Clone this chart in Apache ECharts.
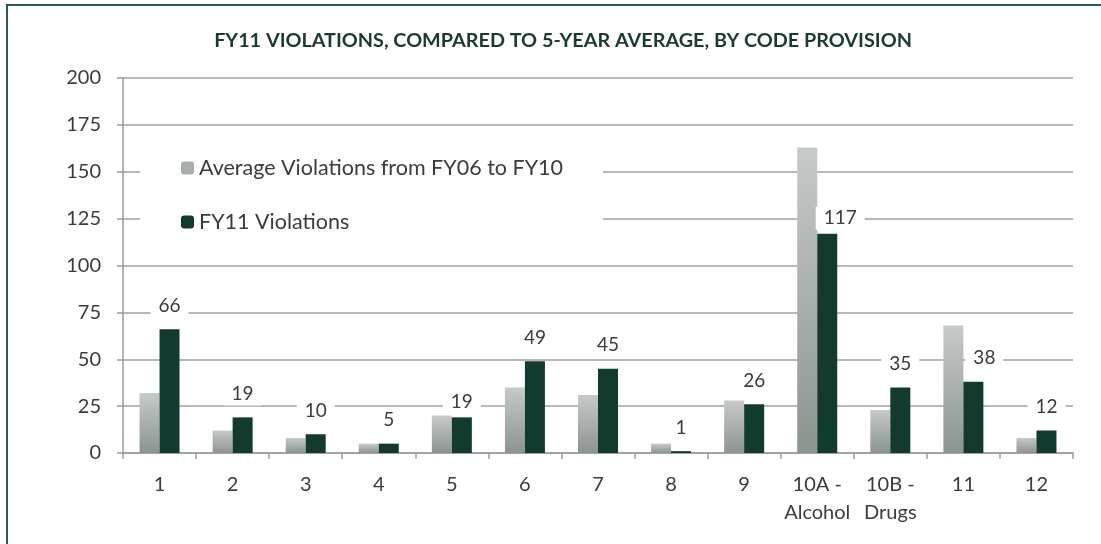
<!DOCTYPE html>
<html lang="en">
<head>
    <meta charset="UTF-8">
    <title>FY11 Violations</title>
    <script src="https://cdn.jsdelivr.net/npm/echarts@6/dist/echarts.min.js"></script>
    <style>
        body {
            padding: 0;
            margin: 0;
            border: none;
            background: #fff;
        }
        #ec {
            width: 1101px;
            height: 544px;
        }
    </style>
</head>
<body>
<div id="ec"></div>
<script>
    // categories / values
    let provisions = ['1', '2', '3', '4', '5', '6', '7', '8', '9', '10A -\nAlcohol', '10B -\nDrugs', '11', '12'];
    let avgViolations = [32, 12, 8, 5, 20, 35, 31, 5, 28, 163, 23, 68, 8];
    let fy11Violations = [66, 19, 10, 5, 19, 49, 45, 1, 26, 117, 35, 38, 12];
    let yTicks = [0, 25, 50, 75, 100, 125, 150, 175, 200];

    // a few labels were nudged in the original so they don't sit on the grey bars
    let labelTweaks = {
        4: {distance: 4},
        9: {distance: 4, offset: [13, 0]},
        11: {offset: [11, 0]}
    };

    let ec = echarts.init(document.getElementById('ec'));
    let font = 'Lato, "Open Sans", sans-serif';
    let textColor = '#383c3a';
    let axisColor = '#9a9a9a';

    let fy11Data = fy11Violations.map((v, i) => {
        if (!labelTweaks[i]) return v;
        return {value: v, label: labelTweaks[i]};
    });

    let option = {
        animation: false,
        title: {
            text: 'FY11 VIOLATIONS, COMPARED TO 5-YEAR AVERAGE, BY CODE PROVISION',
            left: 558,
            textAlign: 'center',
            top: 26,
            textStyle: {
                fontFamily: font,
                fontSize: 19.8,
                fontWeight: 'bold',
                color: '#1d3a31'
            }
        },
        graphic: [{
            type: 'rect',
            shape: {x: 7, y: 5, width: 1200, height: 600},
            style: {fill: 'none', stroke: '#2a5e4b', lineWidth: 2},
            silent: true
        }],
        legend: {
            orient: 'vertical',
            left: 140,
            top: 145,
            itemGap: 32,
            itemWidth: 13,
            itemHeight: 13,
            padding: [12, 40, 12, 41],
            backgroundColor: '#fff',
            textStyle: {
                fontFamily: font,
                fontSize: 21.5,
                color: textColor
            },
            data: [
                {name: 'Average Violations from FY06 to FY10', itemStyle: {color: '#a8acaa'}},
                {name: 'FY11 Violations', itemStyle: {color: '#123a2f'}}
            ]
        },
        grid: {
            left: 123,
            right: 28,
            top: 78,
            bottom: 91
        },
        xAxis: {
            type: 'category',
            data: provisions,
            axisLine: {lineStyle: {color: axisColor, width: 1.5}},
            axisTick: {show: true, length: 6, lineStyle: {color: axisColor, width: 1.5}},
            axisLabel: {
                fontFamily: font,
                fontSize: 20,
                color: textColor,
                margin: 18,
                lineHeight: 28,
                interval: 0
            }
        },
        yAxis: {
            type: 'value',
            min: yTicks[0],
            max: yTicks[yTicks.length - 1],
            interval: 25,
            axisLine: {show: true, lineStyle: {color: axisColor, width: 1.5}},
            axisTick: {show: true, length: 6, lineStyle: {color: axisColor, width: 1.5}},
            splitLine: {lineStyle: {color: '#a0a0a0', width: 1.5}},
            axisLabel: {
                fontFamily: font,
                fontSize: 20,
                color: textColor,
                margin: 22
            }
        },
        series: [{
            name: 'Average Violations from FY06 to FY10',
            type: 'bar',
            barWidth: 20,
            barGap: '0%',
            data: avgViolations,
            itemStyle: {
                color: new echarts.graphic.LinearGradient(0, 0, 0, 1, [
                    {offset: 0, color: '#c6cac8'},
                    {offset: 1, color: '#8c9490'}
                ])
            }
        }, {
            name: 'FY11 Violations',
            type: 'bar',
            barWidth: 20,
            data: fy11Data,
            itemStyle: {color: '#123a2f'},
            label: {
                show: true,
                position: 'top',
                distance: 12,
                fontFamily: font,
                fontSize: 19,
                color: textColor,
                backgroundColor: '#fff',
                padding: [2, 8]
            }
        }]
    };
    ec.setOption(option);
</script>
</body>
</html>
